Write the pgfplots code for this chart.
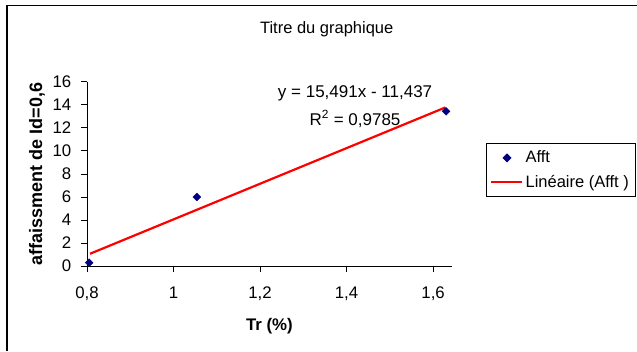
\documentclass[border=0pt]{standalone}
\usepackage{pgfplots}
\pgfplotsset{compat=1.18}
\usepackage{fontspec}
\setmainfont{Liberation Sans}
\definecolor{navyb}{RGB}{0,0,128}
\begin{document}
\fontsize{16.5}{19}\selectfont
\begin{tikzpicture}
\useasboundingbox (0,0) rectangle (637pt,351pt);
\draw[line width=1.3pt] (7pt,0pt) -- (7pt,345.7pt) -- (637pt,345.7pt);
\node[font=\fontsize{16.5}{19}\selectfont] at (326.7pt,322pt) {Titre du graphique};
\begin{axis}[
 at={(87pt,85pt)}, anchor=south west, scale only axis,
 width=364.7pt, height=184pt,
 xmin=0.8, xmax=1.643, ymin=0, ymax=16,
 xtick={0.8,1,1.2,1.4,1.6}, ytick={0,2,4,6,8,10,12,14,16},
 axis x line*=bottom, axis y line*=left,
 axis line style={line width=1pt,-},
 tick align=outside, major tick length=6pt,
 tick style={black, line width=1pt},
 /pgf/number format/use comma,
 /pgf/number format/assume math mode=true,
 tick label style={font=\fontsize{16.8}{19}\selectfont},
 xticklabel style={yshift=-9pt},
 yticklabel style={xshift=-4pt},
 xlabel={\textbf{Tr (\%)}},
 ylabel={\textbf{affaissment de Id=0,6}},
 xlabel style={font=\fontsize{16.8}{19}\selectfont, at={(axis description cs:0.5,-0.326)}, anchor=center},
 ylabel style={font=\fontsize{18}{20}\selectfont, at={(axis description cs:-0.137,0.5)}, anchor=center},
 legend style={at={(1.094,0.667)}, anchor=north west, draw=black, line width=0.8pt,
   font=\fontsize{16.5}{19}\selectfont, inner xsep=4pt, inner ysep=5pt,
   row sep=6pt},
 legend cell align=left,
 clip=false,
]
\addplot[only marks, mark=square*, mark size=2.8pt, mark options={rotate=45}, color=navyb,
  legend image code/.code={\draw[mark repeat=2,mark phase=2] plot coordinates {(0pt,0pt) (15.5pt,0pt) (31pt,0pt)};}]
  coordinates {(0.805,0.29) (1.054,6) (1.63,13.45)};
\addlegendentry{Afft}
\addplot[red, line width=2.2pt,
  legend image code/.code={\draw (0pt,0pt) -- (31pt,0pt);}]
  coordinates {(0.807,1.064) (1.628,13.782)};
\addlegendentry{Linéaire (Afft )}
\node[font=\fontsize{17}{19}\selectfont] at (axis description cs:0.735,0.939) {y = 15,491x - 11,437};
\node[font=\fontsize{17}{19}\selectfont] at (axis description cs:0.735,0.799) {R\textsuperscript{2} = 0,9785};
\end{axis}
\end{tikzpicture}
\end{document}
